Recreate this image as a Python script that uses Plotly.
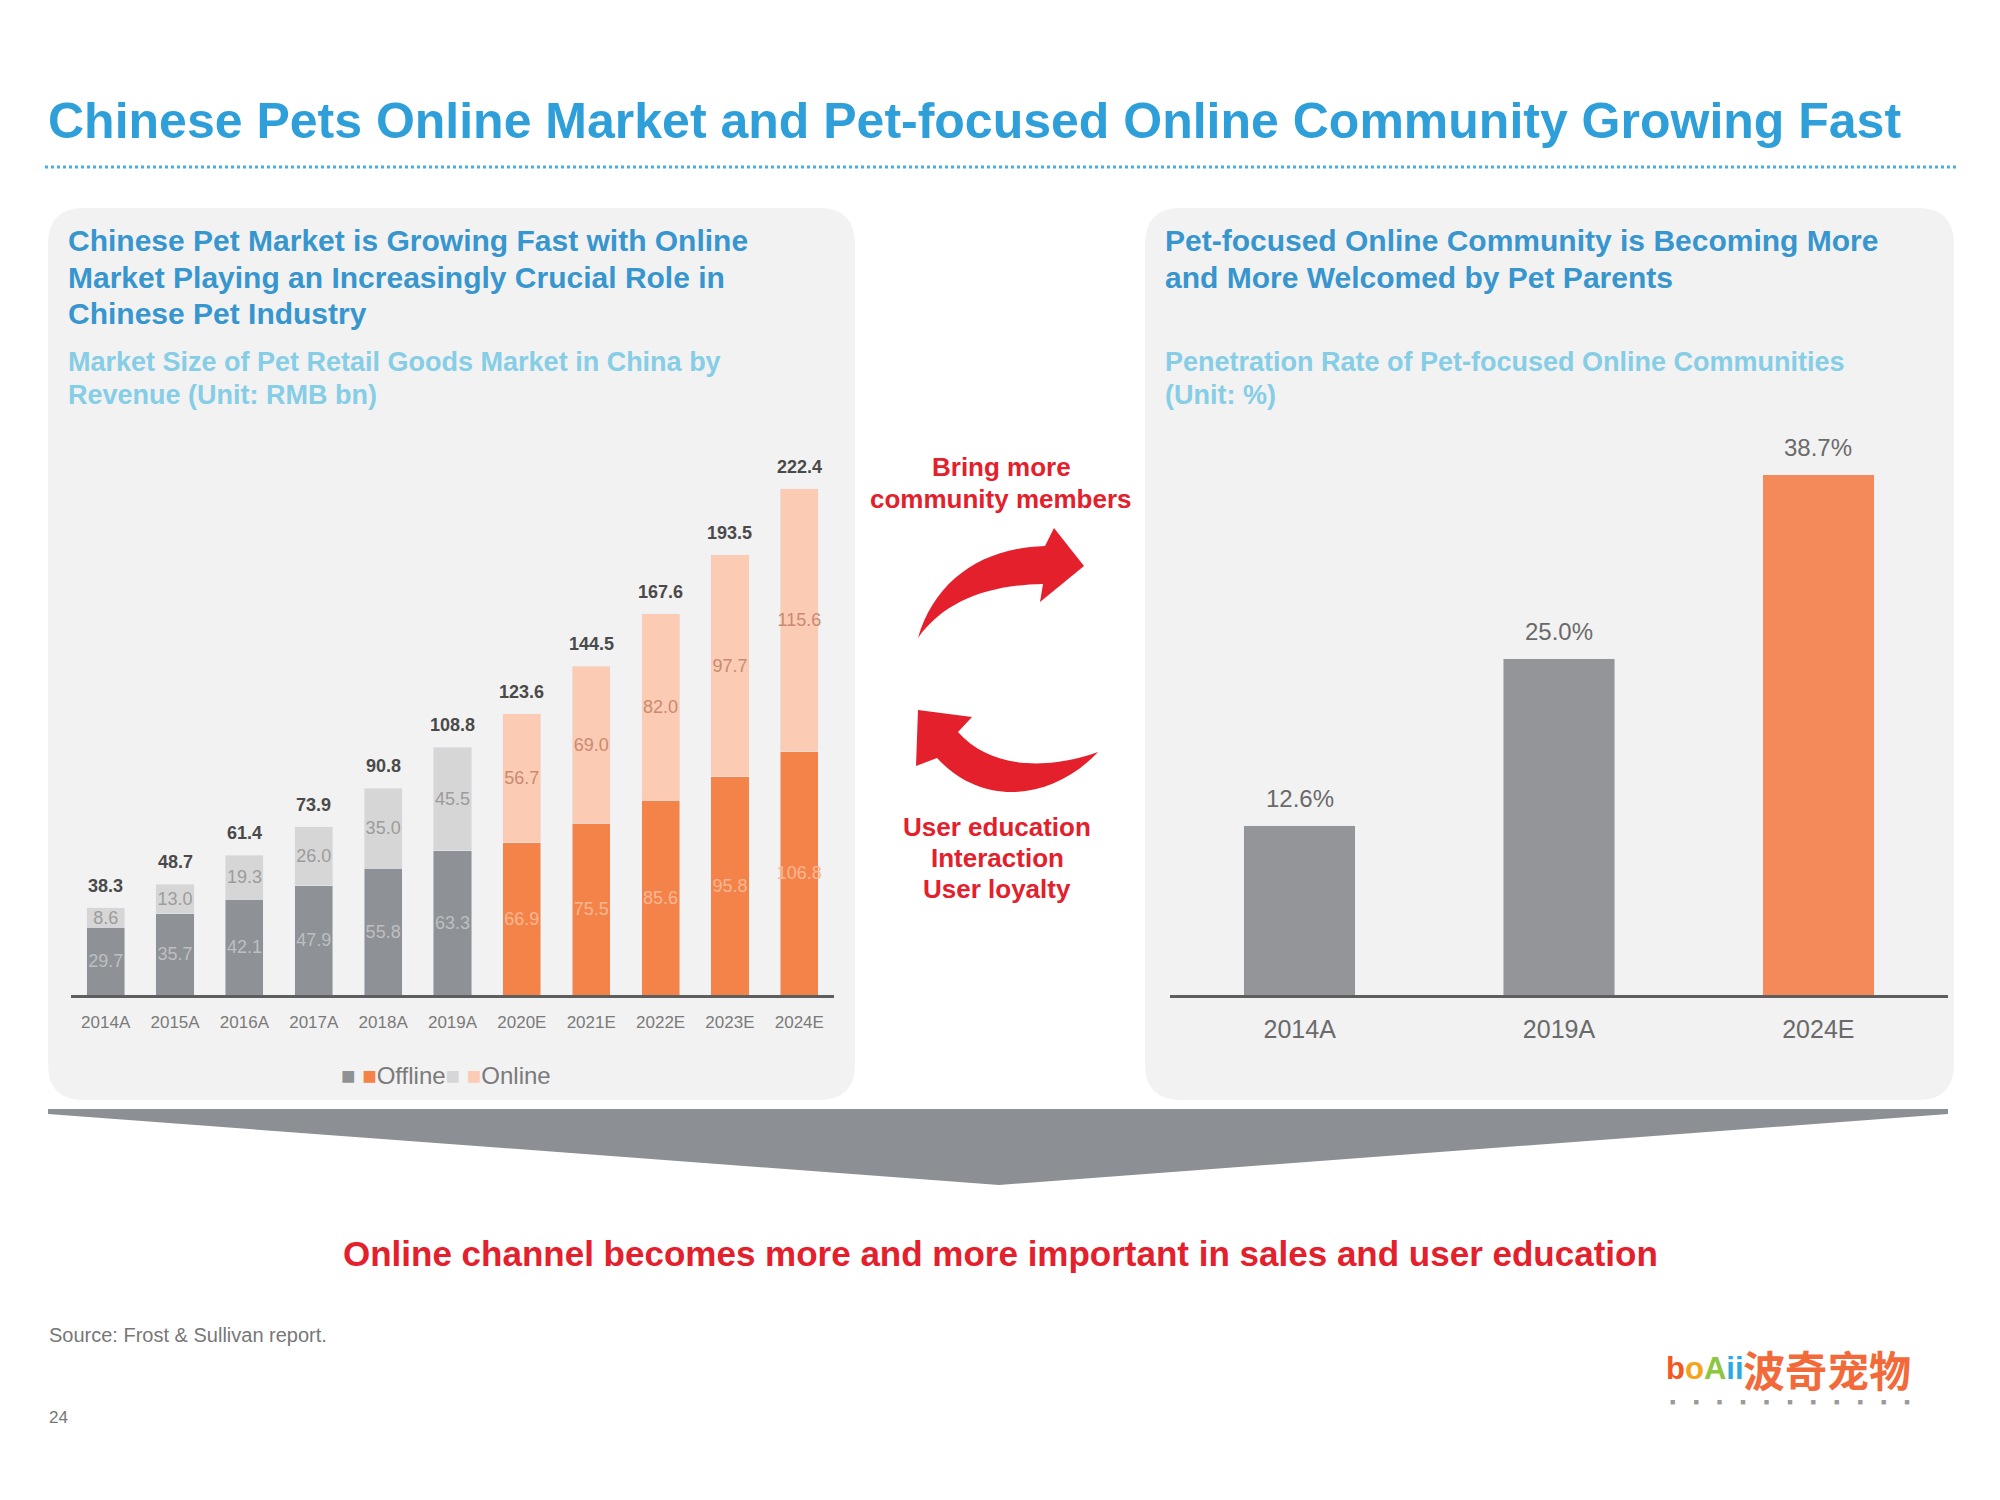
import plotly.graph_objects as go

# --- data ---
years = ["2014A", "2015A", "2016A", "2017A", "2018A", "2019A",
         "2020E", "2021E", "2022E", "2023E", "2024E"]
offline = [29.7, 35.7, 42.1, 47.9, 55.8, 63.3, 66.9, 75.5, 85.6, 95.8, 106.8]
online = [8.6, 13.0, 19.3, 26.0, 35.0, 45.5, 56.7, 69.0, 82.0, 97.7, 115.6]
totals = [38.3, 48.7, 61.4, 73.9, 90.8, 108.8, 123.6, 144.5, 167.6, 193.5, 222.4]
is_forecast = [False] * 6 + [True] * 5

pen_years = ["2014A", "2019A", "2024E"]
pen_rate = [12.6, 25.0, 38.7]
pen_forecast = [False, False, True]

W, H = 2000, 1500
OFF = 8  # page body margin
FONT = "Liberation Sans, Arial, sans-serif"
BLUE = "#2E9FD8"
HEAD = "#3796CE"
SUB = "#86CDE6"
RED = "#E3202B"


def px(x):
    return (x - OFF) / W


def py(y):
    return 1 - (y - OFF) / H


def path(cmds):
    # cmds: list of (letter, [points in pixels])
    out = []
    for letter, pts in cmds:
        out.append(letter + " " + " ".join(f"{px(x):.5f},{py(y):.5f}" for x, y in pts))
    return " ".join(out) + " Z"


def rrect(x0, y0, x1, y1, r):
    return path([
        ("M", [(x0 + r, y0)]), ("L", [(x1 - r, y0)]), ("Q", [(x1, y0), (x1, y0 + r)]),
        ("L", [(x1, y1 - r)]), ("Q", [(x1, y1), (x1 - r, y1)]),
        ("L", [(x0 + r, y1)]), ("Q", [(x0, y1), (x0, y1 - r)]),
        ("L", [(x0, y0 + r)]), ("Q", [(x0, y0), (x0 + r, y0)]),
    ])


fig = go.Figure()

# left chart: stacked bars
off_colors = ["#F4834A" if f else "#8E9196" for f in is_forecast]
on_colors = ["#FBCBB3" if f else "#D6D6D6" for f in is_forecast]
off_text = ["#FBB792" if f else "#BDBFC2" for f in is_forecast]
on_text = ["#C98A70" if f else "#9C9C9C" for f in is_forecast]

fig.add_trace(go.Bar(
    x=years, y=offline, name="Offline", marker_color=off_colors,
    texttemplate="%{y:.1f}", textposition="inside", insidetextanchor="middle",
    textangle=0, constraintext="none",
    textfont=dict(size=18, color=off_text, family=FONT),
    xaxis="x", yaxis="y", showlegend=False,
))
fig.add_trace(go.Bar(
    x=years, y=online, name="Online", marker_color=on_colors,
    texttemplate="%{y:.1f}", textposition="inside", insidetextanchor="middle",
    textangle=0, constraintext="none",
    textfont=dict(size=18, color=on_text, family=FONT),
    xaxis="x", yaxis="y", showlegend=False,
))

# right chart: penetration rate
fig.add_trace(go.Bar(
    x=pen_years, y=pen_rate, width=0.43,
    marker_color=["#F4895A" if f else "#939598" for f in pen_forecast],
    xaxis="x2", yaxis="y2", showlegend=False,
))

base = py(995)
fig.update_layout(
    width=W, height=H,
    margin=dict(l=0, r=0, t=0, b=0),
    paper_bgcolor="white", plot_bgcolor="rgba(0,0,0,0)",
    barmode="stack", bargap=0.45,
    font=dict(family=FONT),
    xaxis=dict(domain=[px(71), px(834)], anchor="y", showline=True,
               linecolor="#5E5E5E", linewidth=3, showgrid=False,
               tickfont=dict(size=17, color="#7A7A7A"), ticklabelstandoff=10),
    yaxis=dict(domain=[base, base + 569 / H], range=[0, 250], visible=False),
    xaxis2=dict(domain=[px(1170), px(1948)], anchor="y2", showline=True,
                linecolor="#5E5E5E", linewidth=3, showgrid=False,
                tickfont=dict(size=25, color="#6A6A6A"), ticklabelstandoff=10),
    yaxis2=dict(domain=[base, base + 605 / H], range=[0, 45], visible=False),
)

shapes = []
# panels
shapes.append(dict(type="path", path=rrect(48, 208, 855, 1100, 36), xref="paper", yref="paper",
                   fillcolor="#F2F2F2", line=dict(width=0), layer="below"))
shapes.append(dict(type="path", path=rrect(1145, 208, 1954, 1100, 36), xref="paper", yref="paper",
                   fillcolor="#F2F2F2", line=dict(width=0), layer="below"))
# dotted rule under title
shapes.append(dict(type="line", xref="paper", yref="paper", x0=px(45), x1=px(1958), y0=py(167), y1=py(167),
                   line=dict(color="#4AAEDF", width=3, dash="dot")))
# gray chevron
shapes.append(dict(type="path", xref="paper", yref="paper", fillcolor="#8C8F94", line=dict(width=0),
                   path=path([("M", [(48, 1109)]), ("L", [(1948, 1109)]), ("L", [(1948, 1114)]),
                              ("L", [(999, 1185)]), ("L", [(48, 1114)])])))
# upper red arrow (pointing right)
shapes.append(dict(type="path", xref="paper", yref="paper", fillcolor=RED, line=dict(width=0),
                   path=path([("M", [(918, 638)]), ("C", [(935, 580), (982, 548), (1045, 546)]),
                              ("L", [(1054, 528)]), ("L", [(1084, 566)]), ("L", [(1040, 602)]),
                              ("L", [(1043, 584)]), ("C", [(990, 585), (945, 600), (918, 638)])])))
# lower red arrow (pointing left)
shapes.append(dict(type="path", xref="paper", yref="paper", fillcolor=RED, line=dict(width=0),
                   path=path([("M", [(918, 710)]), ("L", [(972, 717)]), ("L", [(958, 732)]),
                              ("C", [(988, 766), (1042, 772), (1098, 752)]),
                              ("C", [(1055, 798), (985, 810), (937, 758)]),
                              ("L", [(916, 766)])])))
fig.update_layout(shapes=shapes)

ann = []


def text(x, y, s, size, color, anchor="left", bold=False, fam=FONT):
    ann.append(dict(x=px(x), y=py(y), xref="paper", yref="paper", text=s, showarrow=False,
                    xanchor=anchor, yanchor="middle",
                    font=dict(size=size, color=color, family=fam, weight="bold" if bold else "normal")))


# value labels above the bars (anchored on the data)
for yr, tot in zip(years, totals):
    ann.append(dict(x=yr, y=tot, xref="x", yref="y", text=f"{tot:.1f}", showarrow=False,
                    yanchor="middle", yshift=22,
                    font=dict(size=18, color="#4A4A4A", family=FONT, weight="bold")))
for yr, v in zip(pen_years, pen_rate):
    ann.append(dict(x=yr, y=v, xref="x2", yref="y2", text=f"{v:.1f}%", showarrow=False,
                    yanchor="middle", yshift=27,
                    font=dict(size=24, color="#6A6A6A", family=FONT)))

text(46, 121, "Chinese Pets Online Market and Pet-focused Online Community Growing Fast", 50, BLUE, bold=True)

for i, line in enumerate(["Chinese Pet Market is Growing Fast with Online",
                          "Market Playing an Increasingly Crucial Role in",
                          "Chinese Pet Industry"]):
    text(66, 241 + 36 * i, line, 30, HEAD, bold=True)
for i, line in enumerate(["Market Size of Pet Retail Goods Market in China by",
                          "Revenue (Unit: RMB bn)"]):
    text(66, 362 + 33 * i, line, 27, SUB, bold=True)

for i, line in enumerate(["Pet-focused Online Community is Becoming More",
                          "and More Welcomed by Pet Parents"]):
    text(1163, 241 + 36 * i, line, 30, HEAD, bold=True)
for i, line in enumerate(["Penetration Rate of Pet-focused Online Communities",
                          "(Unit: %)"]):
    text(1163, 362 + 33 * i, line, 27, SUB, bold=True)

text(1001, 467, "Bring more", 26, RED, anchor="center", bold=True)
text(1001, 499, "community members", 26, RED, anchor="center", bold=True)
for i, line in enumerate(["User education", "Interaction", "User loyalty"]):
    text(997, 827 + 31 * i, line, 26, RED, anchor="center", bold=True)

legend_html = ("<span style='color:#8E9196'>■</span> <span style='color:#F4834A'>■</span>Offline"
               "<span style='color:#D6D6D6'>■</span> <span style='color:#FBCBB3'>■</span>Online")
text(446, 1075, legend_html, 24, "#7A7A7A", anchor="center")

text(1000, 1253, "Online channel becomes more and more important in sales and user education",
     35, RED, anchor="center", bold=True)

text(47, 1335, "Source: Frost &amp; Sullivan report.", 20, "#777777")
text(47, 1417, "24", 17, "#777777")

# logo
logo = ("<span style='color:#F15A24'>b</span><span style='color:#F7A21B'>o</span>"
        "<span style='color:#8DC63F'>A</span><span style='color:#29ABE2'>ii</span>")
text(1664, 1368, logo, 31, "#F15A24", bold=True)
text(1913, 1368, "波奇宠物", 42, "#F26A3A", anchor="right", bold=True,
     fam="Noto Sans CJK SC, sans-serif")
text(1790, 1402, "\u2003\u2003".join(["■"] * 11), 9, "#9A9A9A", anchor="center")

fig.update_layout(annotations=ann)

fig.write_html("out.html")
